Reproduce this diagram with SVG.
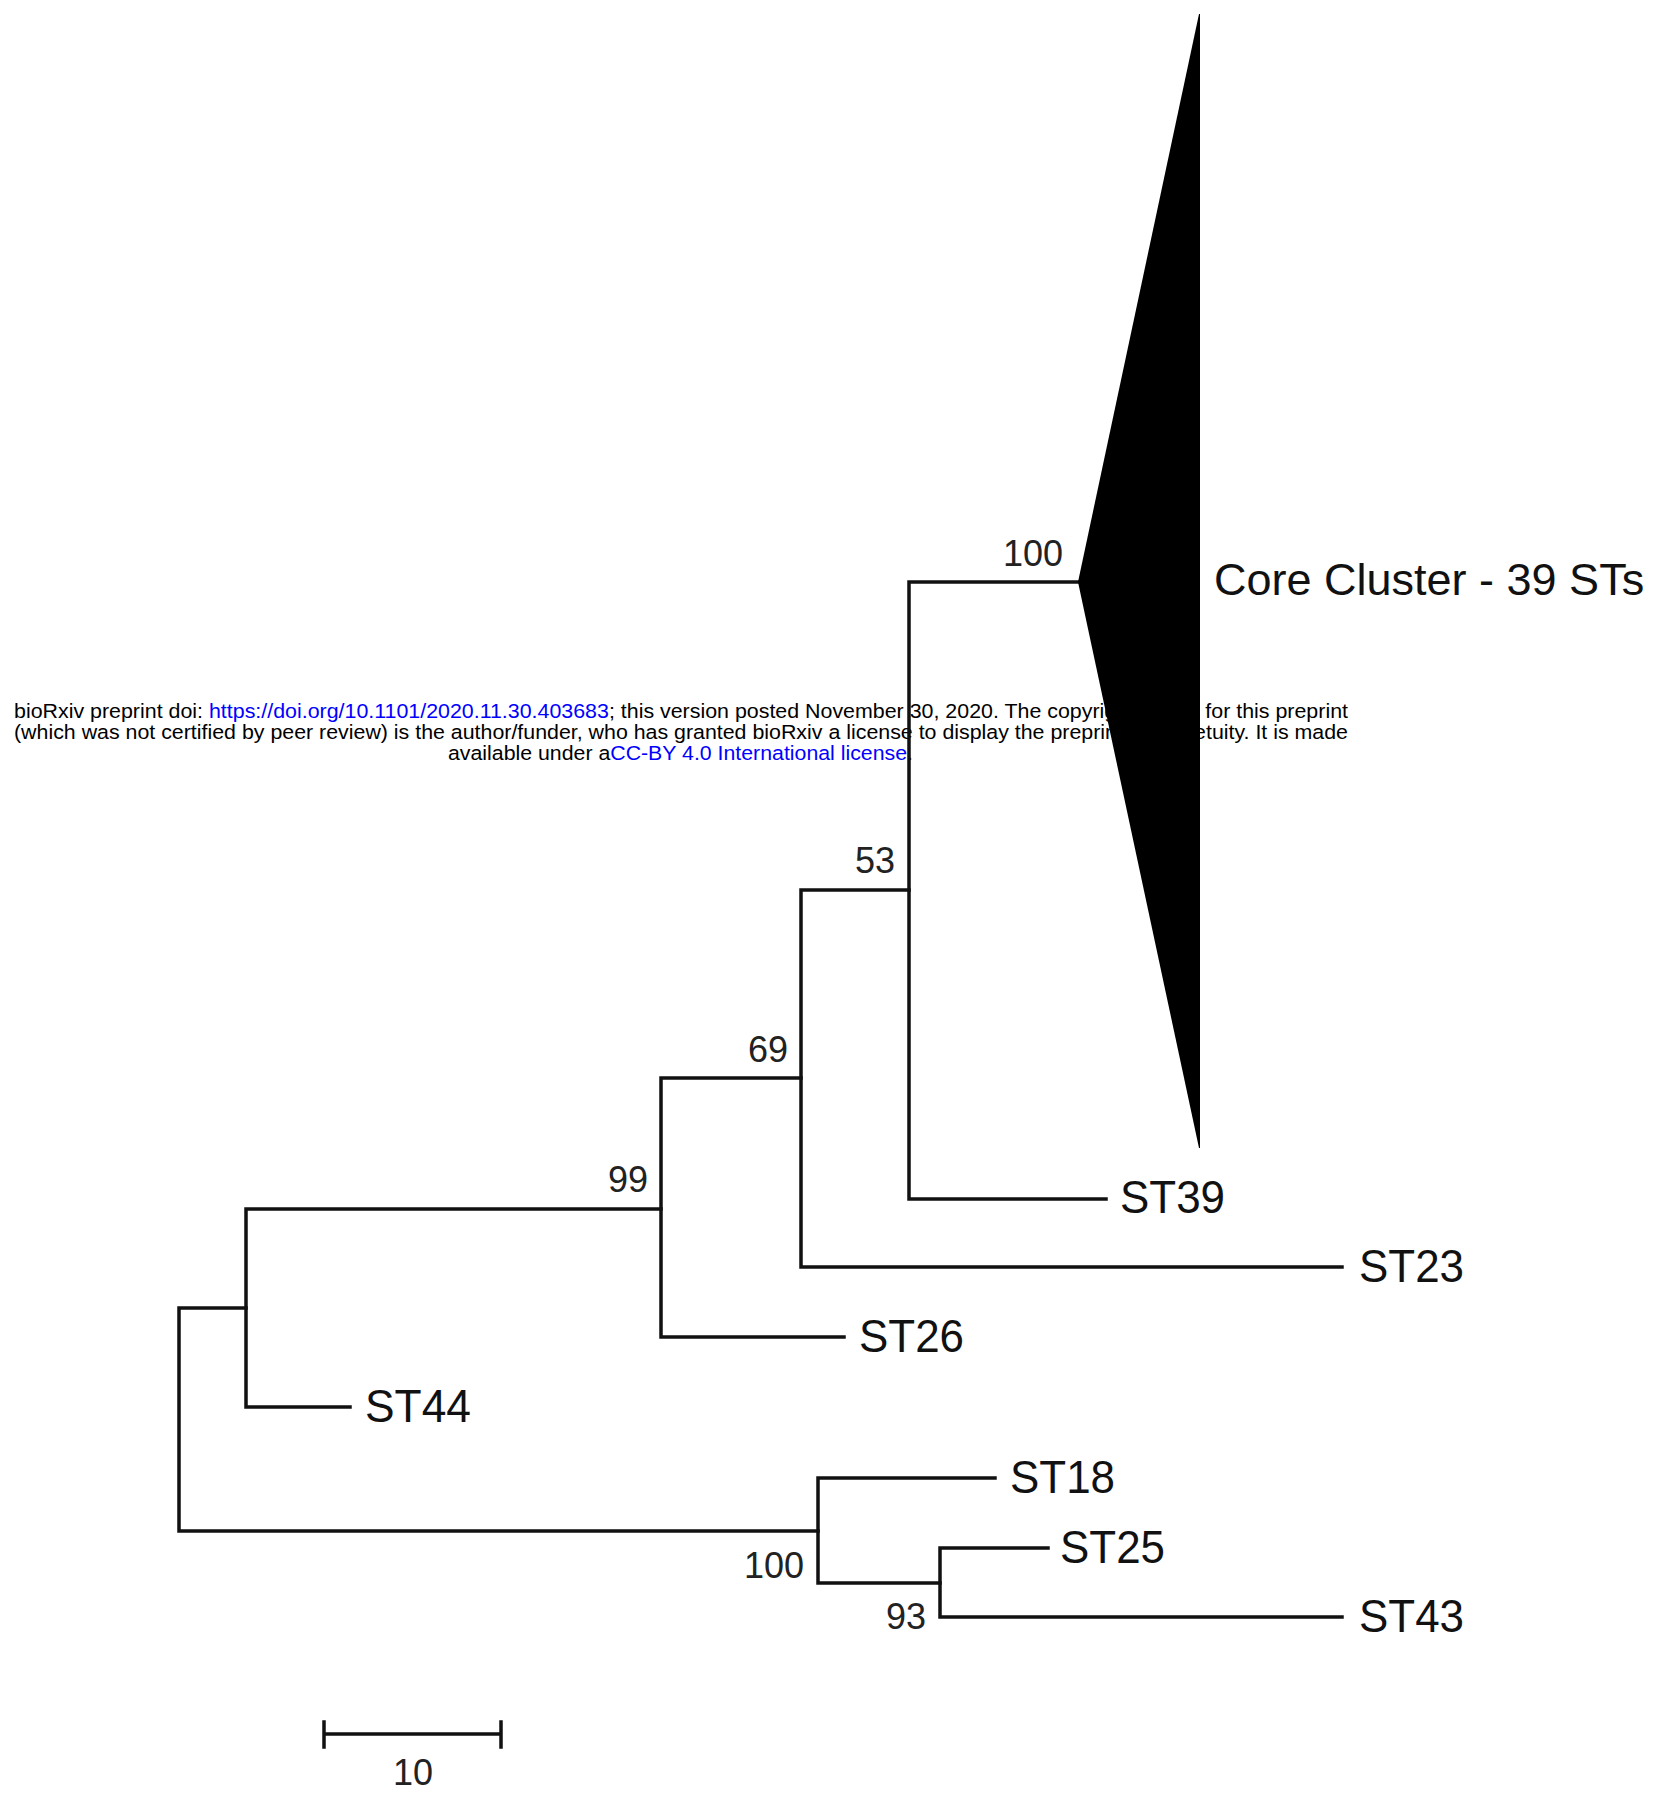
<svg xmlns="http://www.w3.org/2000/svg" width="1661" height="1794" viewBox="0 0 1661 1794">
<style>
.br{fill:none;stroke:#111;stroke-width:3.5;stroke-linecap:square;stroke-linejoin:miter}
.lab{font-family:"Liberation Sans",Arial,sans-serif;font-size:47px;fill:#111}
.bs{font-family:"Liberation Sans",Arial,sans-serif;font-size:36px;fill:#222;text-anchor:end}
.wm{font-family:"Liberation Sans",Arial,sans-serif;font-size:20.5px;fill:#000}
.lk{fill:#0000ff}
</style>
<rect width="1661" height="1794" fill="#fff"/>
<g id="watermark">
<text class="wm" x="14" y="718" textLength="1334" lengthAdjust="spacingAndGlyphs">bioRxiv preprint doi: <tspan class="lk">https://doi.org/10.1101/2020.11.30.403683</tspan>; this version posted November 30, 2020. The copyright holder for this preprint</text>
<text class="wm" x="14" y="739" textLength="1334" lengthAdjust="spacingAndGlyphs">(which was not certified by peer review) is the author/funder, who has granted bioRxiv a license to display the preprint in perpetuity. It is made</text>
<text class="wm" x="448" y="760" textLength="465" lengthAdjust="spacingAndGlyphs">available under a<tspan class="lk">CC-BY 4.0 International license</tspan>.</text>
</g>
<g id="connectors">
<path class="br" d="M1078,582 H909 V1199 H1106"/>
<path class="br" d="M909,890 H801 V1267 H1342"/>
<path class="br" d="M801,1078 H661 V1337 H844"/>
<path class="br" d="M661,1209 H246 V1407 H350"/>
<path class="br" d="M246,1308 H179 V1531 H818"/>
<path class="br" d="M995,1478 H818 V1583 H940"/>
<path class="br" d="M1048,1548 H940 V1617 H1342"/>
</g>
<g id="core-cluster">
<polygon points="1078,582 1199,14 1200,14 1200,1148 1199,1148" fill="#000"/>
<text class="lab" x="1214" y="595" style="font-size:45px">Core Cluster - 39 STs</text>
</g>
<g id="ST39"><text class="lab" x="1120" y="1213" textLength="105" lengthAdjust="spacingAndGlyphs">ST39</text></g>
<g id="ST23"><text class="lab" x="1359" y="1282" textLength="105" lengthAdjust="spacingAndGlyphs">ST23</text></g>
<g id="ST26"><text class="lab" x="859" y="1352" textLength="105" lengthAdjust="spacingAndGlyphs">ST26</text></g>
<g id="ST44"><text class="lab" x="365" y="1422" textLength="106" lengthAdjust="spacingAndGlyphs">ST44</text></g>
<g id="ST18"><text class="lab" x="1010" y="1493" textLength="105" lengthAdjust="spacingAndGlyphs">ST18</text></g>
<g id="ST25"><text class="lab" x="1060" y="1563" textLength="105" lengthAdjust="spacingAndGlyphs">ST25</text></g>
<g id="ST43"><text class="lab" x="1359" y="1632" textLength="105" lengthAdjust="spacingAndGlyphs">ST43</text></g>
<g id="bootstrap">
<text class="bs" x="1063" y="566">100</text>
<text class="bs" x="895" y="873">53</text>
<text class="bs" x="788" y="1062">69</text>
<text class="bs" x="648" y="1192">99</text>
<text class="bs" x="804" y="1578">100</text>
<text class="bs" x="926" y="1629">93</text>
</g>
<g id="scale-bar">
<path class="br" d="M324,1734 H501 M324,1722 V1747 M501,1722 V1747"/>
<text class="bs" x="413" y="1785" style="text-anchor:middle">10</text>
</g>
</svg>
